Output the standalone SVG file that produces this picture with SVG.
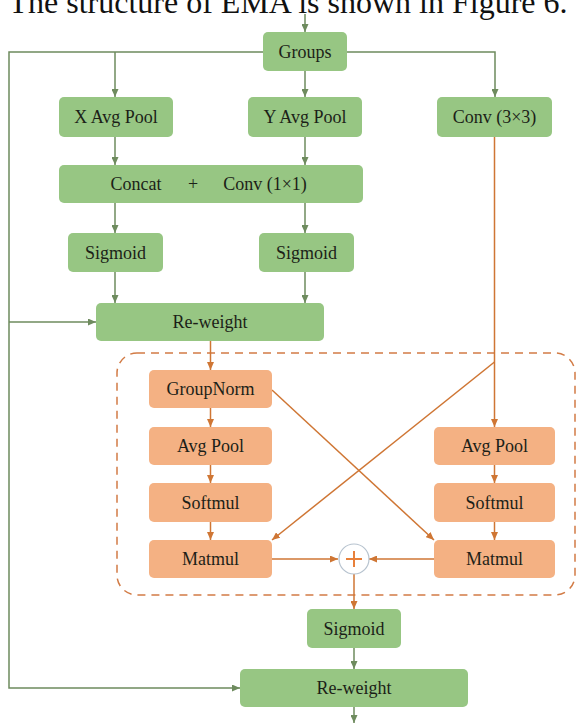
<svg xmlns="http://www.w3.org/2000/svg" width="577" height="724" viewBox="0 0 577 724">
<style>
.g rect{fill:#97c683;}
.o rect{fill:#f4b183;}
text{font-family:"Liberation Serif","Times New Roman",serif;font-size:18px;fill:#1c1f18;text-anchor:middle;}
.gl{stroke:#6e8b5e;stroke-width:1.5;fill:none;}
.ol{stroke:#cf7634;stroke-width:1.5;fill:none;}
</style>
<defs>
<marker id="ag" markerUnits="userSpaceOnUse" markerWidth="8" markerHeight="7" refX="8" refY="3.5" orient="auto"><path d="M0,0 L8,3.5 L0,7 z" fill="#6e8b5e"/></marker>
<marker id="ao" markerUnits="userSpaceOnUse" markerWidth="8" markerHeight="7" refX="8" refY="3.5" orient="auto"><path d="M0,0 L8,3.5 L0,7 z" fill="#cf7634"/></marker>
</defs>
<rect width="577" height="724" fill="#ffffff"/>
<text x="288" y="13" style="font-size:32px;fill:#111">The structure of EMA is shown in Figure 6.</text>

<rect x="117" y="353" width="458" height="242" rx="20" fill="none" stroke="#d27b45" stroke-width="1.5" stroke-dasharray="8,6"/>

<g id="connectors">
<path class="gl" d="M305,14 V32" marker-end="url(#ag)"/>
<path class="gl" d="M263,52 H9 V688 H240" marker-end="url(#ag)"/>
<path class="gl" d="M9,322 H96" marker-end="url(#ag)"/>
<path class="gl" d="M347,52 H495 V97" marker-end="url(#ag)"/>
<path class="gl" d="M115,52 V97" marker-end="url(#ag)"/>
<path class="gl" d="M305,71 V97" marker-end="url(#ag)"/>
<path class="gl" d="M115,137 V165" marker-end="url(#ag)"/>
<path class="gl" d="M305,137 V165" marker-end="url(#ag)"/>
<path class="gl" d="M115,203 V233" marker-end="url(#ag)"/>
<path class="gl" d="M305,203 V233" marker-end="url(#ag)"/>
<path class="gl" d="M115,272 V303" marker-end="url(#ag)"/>
<path class="gl" d="M305,272 V303" marker-end="url(#ag)"/>
<path class="gl" d="M354,648 V669" marker-end="url(#ag)"/>
<path class="gl" d="M354,707 V723" marker-end="url(#ag)"/>

<path class="ol" d="M210.5,341 V370" marker-end="url(#ao)"/>
<path class="ol" d="M494.5,137 V427" marker-end="url(#ao)"/>
<path class="ol" d="M494.5,362 L272,540" marker-end="url(#ao)"/>
<path class="ol" d="M272,390 L434,540" marker-end="url(#ao)"/>
<path class="ol" d="M210.5,408 V427" marker-end="url(#ao)"/>
<path class="ol" d="M210.5,465 V483" marker-end="url(#ao)"/>
<path class="ol" d="M210.5,522 V540" marker-end="url(#ao)"/>
<path class="ol" d="M494.5,465 V483" marker-end="url(#ao)"/>
<path class="ol" d="M494.5,522 V540" marker-end="url(#ao)"/>
<path class="ol" d="M272,559 H338" marker-end="url(#ao)"/>
<path class="ol" d="M434,559 H369" marker-end="url(#ao)"/>
<path class="ol" d="M354,574 V609" marker-end="url(#ao)"/>
</g>

<g id="groups" class="g"><rect x="263" y="32" width="84" height="39" rx="5"/><text x="305" y="58">Groups</text></g>
<g id="xavgpool" class="g"><rect x="59" y="97" width="114" height="40" rx="5"/><text x="116" y="123">X Avg Pool</text></g>
<g id="yavgpool" class="g"><rect x="248" y="97" width="114" height="40" rx="5"/><text x="305" y="123">Y Avg Pool</text></g>
<g id="conv3" class="g"><rect x="437" y="97" width="115" height="40" rx="5"/><text x="494.5" y="123">Conv (3×3)</text></g>
<g id="concat" class="g"><rect x="59" y="165" width="304" height="38" rx="5"/><text x="136" y="190">Concat</text><text x="193" y="190">+</text><text x="265" y="190">Conv (1×1)</text></g>
<g id="sigmoid1" class="g"><rect x="68" y="233" width="95" height="39" rx="5"/><text x="115.5" y="259">Sigmoid</text></g>
<g id="sigmoid2" class="g"><rect x="259" y="233" width="95" height="39" rx="5"/><text x="306.5" y="259">Sigmoid</text></g>
<g id="reweight1" class="g"><rect x="96" y="303" width="228" height="38" rx="5"/><text x="210" y="328">Re-weight</text></g>

<g id="groupnorm" class="o"><rect x="149" y="370" width="123" height="38" rx="5"/><text x="210.5" y="395">GroupNorm</text></g>
<g id="avgpool1" class="o"><rect x="149" y="427" width="123" height="38" rx="5"/><text x="210.5" y="452">Avg Pool</text></g>
<g id="softmul1" class="o"><rect x="149" y="483" width="123" height="39" rx="5"/><text x="210.5" y="509">Softmul</text></g>
<g id="matmul1" class="o"><rect x="149" y="540" width="123" height="38" rx="5"/><text x="210.5" y="565">Matmul</text></g>
<g id="avgpool2" class="o"><rect x="434" y="427" width="121" height="38" rx="5"/><text x="494.5" y="452">Avg Pool</text></g>
<g id="softmul2" class="o"><rect x="434" y="483" width="121" height="39" rx="5"/><text x="494.5" y="509">Softmul</text></g>
<g id="matmul2" class="o"><rect x="434" y="540" width="121" height="38" rx="5"/><text x="494.5" y="565">Matmul</text></g>

<g id="add"><circle cx="354" cy="559" r="15" fill="#fff" stroke="#b7c3cf" stroke-width="1.2"/><path d="M346,559 H362 M354,551 V567" stroke="#e8803a" stroke-width="2" fill="none"/></g>

<g id="sigmoid3" class="g"><rect x="307" y="609" width="94" height="39" rx="5"/><text x="354" y="635">Sigmoid</text></g>
<g id="reweight2" class="g"><rect x="240" y="669" width="228" height="38" rx="5"/><text x="354" y="694">Re-weight</text></g>
</svg>
